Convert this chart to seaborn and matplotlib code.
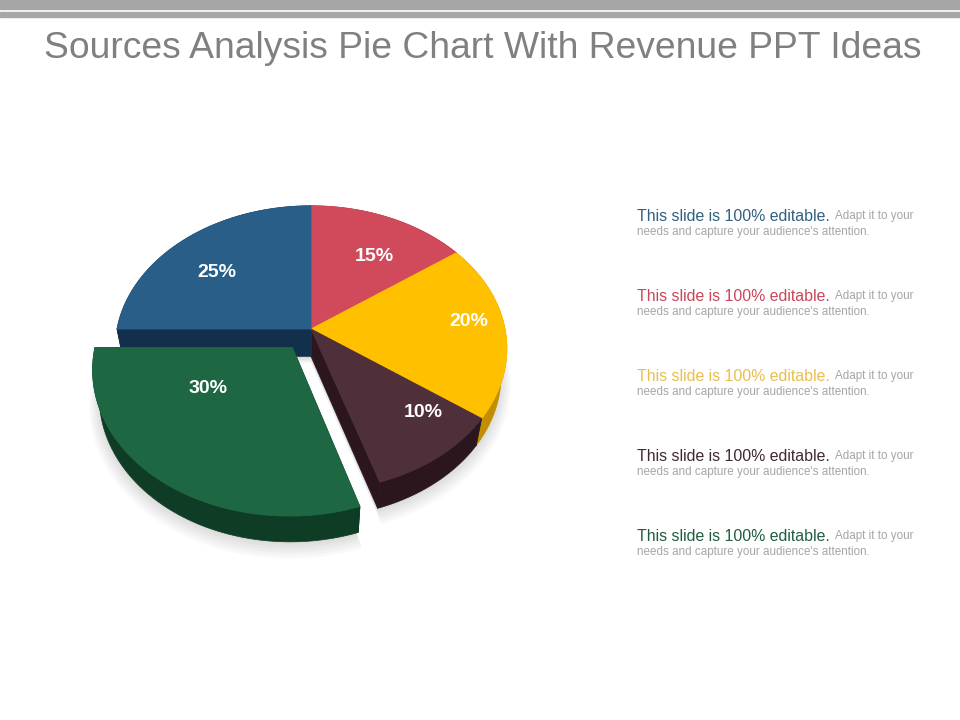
import numpy as np
import matplotlib
matplotlib.use("Agg")
import matplotlib.pyplot as plt
import matplotlib.transforms as mtransforms
from matplotlib.path import Path
from matplotlib.patches import Polygon
import seaborn as sns

# ---------------- data ----------------
title = "Sources Analysis Pie Chart With Revenue PPT Ideas"
shares = [15, 20, 10, 30, 25]                      # clockwise from 12 o'clock
slice_names = ["Red", "Yellow", "Brown", "Green", "Blue"]
explode = [0, 0, 0, 0.16, 0]
note_order = ["Blue", "Red", "Yellow", "Brown", "Green"]
note_head = "This slide is 100% editable."
note_tail1 = "Adapt it to your"
note_tail2 = "needs and capture your audience's attention."

# ---------------- style ----------------
top_colors = {"Red": "#D14A5B", "Yellow": "#FFC000", "Brown": "#4E2F3A",
              "Green": "#1D6742", "Blue": "#285E87"}
wall_colors = {"Red": "#8E2A36", "Yellow": "#C08E00", "Brown": "#2A161C",
               "Green": "#0E3C24", "Blue": "#12304B"}
note_colors = {"Red": "#C9475A", "Yellow": "#E9BE4E", "Brown": "#3F2A31",
               "Green": "#1E5E3E", "Blue": "#30607F"}
label_r = [0.66, 0.82, 0.77, 0.49, 0.67]
label_shift = [-5, 4, 8, -20, 5]

sns.set_theme(style="white")
plt.rcParams["font.family"] = ["Liberation Sans", "DejaVu Sans"]

# perspective camera for the 3D pie (pixel space output)
CX, CY = 311.0, 329.0
D = 5.06
F = 194.0 * D
ELEV = np.radians(46.2)
S, C = np.sin(ELEV), np.cos(ELEV)
H = 0.21  # thickness


def proj(x, y, z):
    x = np.asarray(x, float)
    y = np.asarray(y, float)
    z = np.asarray(z, float) * np.ones_like(x)
    yc = y * S + z * C
    zc = D + y * C - z * S
    return CX + F * x / zc, CY - F * yc / zc


class Persp(mtransforms.Transform):
    input_dims = 2
    output_dims = 2
    is_separable = False
    has_inverse = False

    def __init__(self, z=0.0):
        super().__init__()
        self.z = z

    def transform_non_affine(self, values):
        v = np.asarray(values, float).reshape(-1, 2)
        u, w = proj(v[:, 0], v[:, 1], self.z)
        return np.column_stack([u, w])

    def transform_path_non_affine(self, path):
        pts = []
        for seg, code in path.iter_bezier():
            if code == Path.MOVETO:
                pts.append(seg.control_points[:1])
            else:
                pts.append(seg(np.linspace(0, 1, 30)[1:]))
        P = np.vstack(pts)
        P = np.vstack([P, P[:1]])
        return Path(self.transform_non_affine(P), closed=True)


fig = plt.figure(figsize=(9.6, 7.2), dpi=100)
ax = fig.add_axes([0, 0, 1, 1])

colors = [top_colors[n] for n in slice_names]
wedges, _, autotexts = ax.pie(
    shares, startangle=90, counterclock=False, explode=explode,
    colors=colors, autopct=lambda p: f"{p:.0f}%", pctdistance=0.6,
    wedgeprops=dict(linewidth=0.6),
    textprops=dict(color="white", fontsize=14, fontweight="bold"))

ax.set_aspect("auto")
ax.set_xlim(0, 960)
ax.set_ylim(720, 0)
ax.axis("off")

persp = Persp(0.0) + ax.transData

for i, (w, name) in enumerate(zip(wedges, slice_names)):
    exploded = explode[i] > 0
    zbase = 3 if exploded else 1
    w.set_transform(persp)
    w.set_edgecolor(w.get_facecolor())
    w.set_zorder(zbase + 1)
    cx, cy = w.center
    # soft shadow
    tt = np.radians(np.linspace(w.theta1, w.theta2, 80))
    for k in range(6):
        rr = 1.0 + 0.01 * k
        xs = np.concatenate([[cx], cx + rr * np.cos(tt)])
        ys = np.concatenate([[cy], cy + rr * np.sin(tt)])
        u, v = proj(xs, ys, -H)
        ax.add_patch(Polygon(np.column_stack([u, v + 2 + 1.0 * k]), closed=True,
                             facecolor="#000000", alpha=0.022, linewidth=0, zorder=0))
    # outer wall
    xs = cx + np.cos(tt)
    ys = cy + np.sin(tt)
    ut, vt = proj(xs, ys, 0)
    ub, vb = proj(xs, ys, -H)
    poly = np.column_stack([np.concatenate([ut, ub[::-1]]), np.concatenate([vt, vb[::-1]])])
    ax.add_patch(Polygon(poly, closed=True, facecolor=wall_colors[name],
                         edgecolor=wall_colors[name], linewidth=0.5, zorder=zbase))
    # radial walls
    for a in (w.theta1, w.theta2):
        ar = np.radians(a)
        xs = np.array([cx, cx + np.cos(ar), cx + np.cos(ar), cx])
        ys = np.array([cy, cy + np.sin(ar), cy + np.sin(ar), cy])
        zs = np.array([0, 0, -H, -H])
        u, v = proj(xs, ys, zs)
        ax.add_patch(Polygon(np.column_stack([u, v]), closed=True,
                             facecolor=wall_colors[name], edgecolor=wall_colors[name],
                             linewidth=0.5, zorder=zbase - 0.5))
    # label
    mid = np.radians((w.theta1 + w.theta2) / 2 + label_shift[i])
    t = autotexts[i]
    t.set_position((cx + label_r[i] * np.cos(mid), cy + label_r[i] * np.sin(mid)))
    t.set_transform(persp)
    t.set_zorder(6)
    t.set_family(["Liberation Sans", "DejaVu Sans"])

# header bars and title
ax.axhspan(0, 8.7, color="#A6A6A6", zorder=0)
ax.axhspan(12.3, 16.6, color="#A6A6A6", zorder=0)
ax.text(44, 57.5, title, fontsize=26.8, color="#808080", ha="left", va="baseline")

# notes on the right
for j, name in enumerate(note_order):
    yb = 221 + 80 * j
    head = ax.text(637, yb, note_head, fontsize=11.4, color=note_colors[name],
                   ha="left", va="baseline")
    ax.annotate(note_tail1, xy=(1, 0), xycoords=head, xytext=(4, 1.2),
                textcoords="offset points", fontsize=8.4, color="#A6A6A6",
                ha="left", va="bottom")
    ax.text(637, yb + 13.5, note_tail2, fontsize=8.4, color="#A6A6A6",
            ha="left", va="baseline")

fig.savefig("out.png", dpi=100)
